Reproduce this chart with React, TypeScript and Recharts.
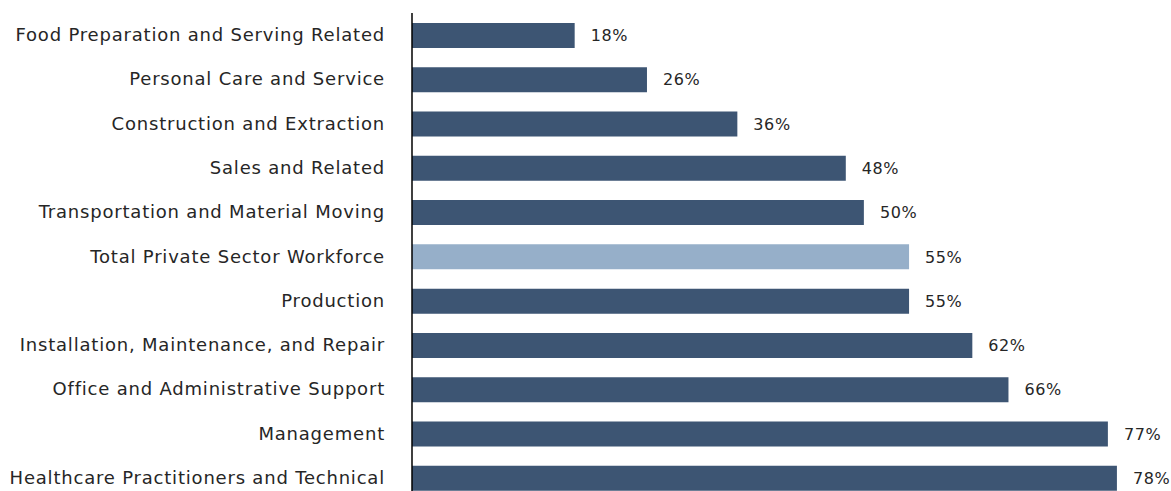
import { BarChart, Bar, Cell, XAxis, YAxis, LabelList } from "recharts";

const categories = [
  "Food Preparation and Serving Related",
  "Personal Care and Service",
  "Construction and Extraction",
  "Sales and Related",
  "Transportation and Material Moving",
  "Total Private Sector Workforce",
  "Production",
  "Installation, Maintenance, and Repair",
  "Office and Administrative Support",
  "Management",
  "Healthcare Practitioners and Technical",
];
const shares = [18, 26, 36, 48, 50, 55, 55, 62, 66, 77, 78];
const highlight = "Total Private Sector Workforce";

const data = categories.map((name, i) => ({ name, share: shares[i] }));

const DARK = "#3d5573";
const LIGHT = "#96afc9";
const FONT = "'DejaVu Sans', sans-serif";

function CategoryTick(props: any) {
  const { x, y, payload } = props;
  return (
    <text
      x={x - 19}
      y={y}
      dy={6}
      textAnchor="end"
      fontSize={18}
      letterSpacing={0.8}
      fontFamily={FONT}
      fill="#262626"
    >
      {payload.value}
    </text>
  );
}

export default function App() {
  return (
    <div style={{ position: "fixed", top: 0, left: 0, width: 1171, height: 491, overflow: "hidden", background: "#fff" }}>
      <BarChart
        width={1171}
        height={500}
        layout="vertical"
        data={data}
        barSize={25}
        margin={{ top: 13, right: 36, bottom: 0, left: 0 }}
      >
        <XAxis type="number" domain={[0, 80]} hide />
        <YAxis
          type="category"
          dataKey="name"
          width={412}
          axisLine={{ stroke: "#000", strokeWidth: 1.5 }}
          tickLine={false}
          tick={<CategoryTick />}
          interval={0}
        />
        <Bar dataKey="share" isAnimationActive={false}>
          {data.map((entry, index) => (
            <Cell key={`${entry.name}-${index}`} fill={entry.name === highlight ? LIGHT : DARK} />
          ))}
          <LabelList
            dataKey="share"
            position="right"
            offset={16}
            formatter={(v: any) => `${v}%`}
            style={{ fontSize: 16, letterSpacing: 0.6, fontFamily: FONT, fill: "#262626" }}
          />
        </Bar>
      </BarChart>
    </div>
  );
}
